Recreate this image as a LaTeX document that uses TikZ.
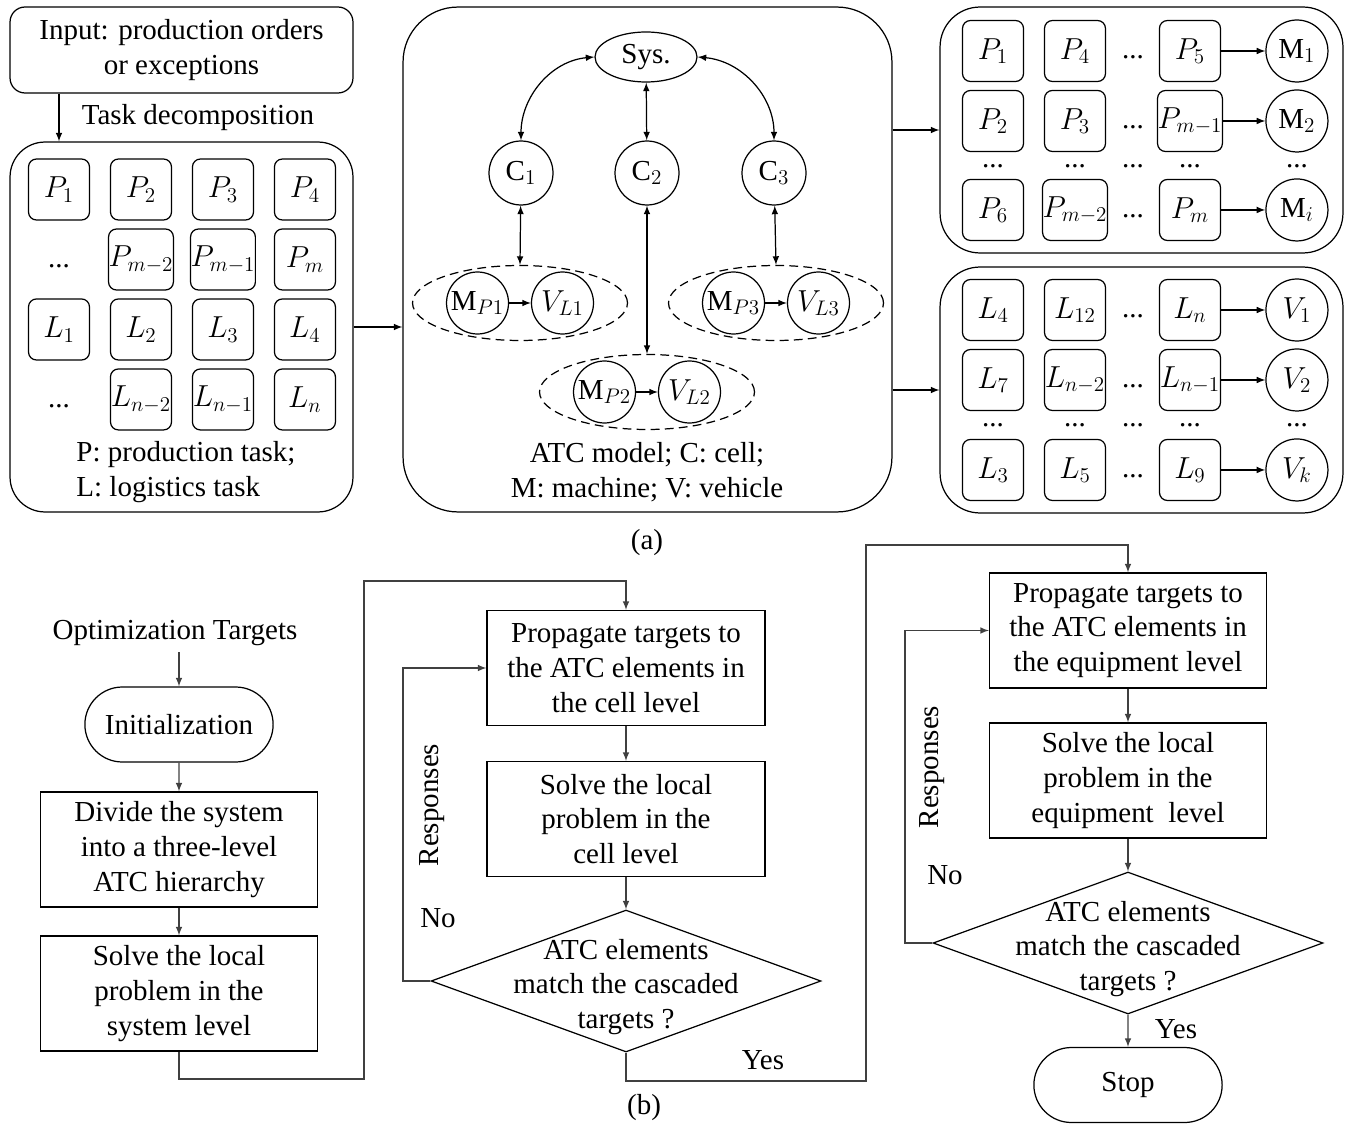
\documentclass[tikz,border=0pt]{standalone}
\usepackage{fontspec}
\setmainfont{Liberation Serif}
\usepackage{amsmath}
\usetikzlibrary{arrows,positioning,shapes.geometric,shapes.misc}

\tikzset{
  task/.style={draw,rounded corners=4.5pt,minimum size=1.22cm,inner sep=0pt},
  agent/.style={draw,circle,minimum size=1.24cm,inner sep=0pt},
  gap/.style={inner sep=0pt,text height=9pt,text depth=0pt},
  group/.style={draw,ellipse,dash pattern=on 5pt off 3pt,minimum width=4.3cm,minimum height=1.5cm},
  panel/.style={draw,rounded corners=#1},
  procbox/.style={draw,rectangle,minimum width=5.54cm,minimum height=2.3cm,align=center,inner sep=0pt},
  decision/.style={draw,diamond,minimum width=7.8cm,minimum height=2.84cm,inner sep=0pt},
  terminal/.style={draw,rounded rectangle,minimum width=4cm,minimum height=1.5cm},
  flow/.style={->,draw=black!75},
}

\begin{document}
\begin{tikzpicture}[x=0.02cm,y=-0.02cm,>=latex,line width=0.7pt,node distance=1.4cm and 1.64cm,on grid,
    font=\fontsize{16.5}{19.8}\selectfont]
    \useasboundingbox (0,0) rectangle (1348,1128);
    %% (a) task decomposition
    \node (inp) [draw,rounded corners=0.3cm,minimum width=6.86cm,minimum height=1.72cm,align=center] at (181.5,50)
      {Input: production orders\\or exceptions};
    \node (dec) [panel=0.7cm,minimum width=6.86cm,minimum height=7.4cm] at (181.5,327) {};
    \node (tdl) at (198,118) {Task decomposition};
    \node (p1) [task] at (59,189.5) {$P_1$};
    \node (p2) [task,right=of p1] {$P_2$};
    \node (p3) [task,right=of p2] {$P_3$};
    \node (p4) [task,right=of p3] {$P_4$};
    \node (pm2) [task,below=of p2] {$P_{m-2}$};
    \node (pm1) [task,below=of p3] {$P_{m-1}$};
    \node (pm) [task,below=of p4] {$P_m$};
    \node (l1) [task,below=2.8cm of p1] {$L_1$};
    \node (l2) [task,below=of pm2] {$L_2$};
    \node (l3) [task,below=of pm1] {$L_3$};
    \node (l4) [task,below=of pm] {$L_4$};
    \node (ln2) [task,below=of l2] {$L_{n-2}$};
    \node (ln1) [task,below=of l3] {$L_{n-1}$};
    \node (ln) [task,below=of l4] {$L_n$};
    \node (dp) [gap,below=of p1] {...};
    \node (dl) [gap,below=of l1] {...};
    \node (lgd) [anchor=west,align=left] at (70,472) {P: production task;\\L: logistics task};
    \draw[->] (inp.south -| p1) -- (dec.north -| p1);

    %% (a) ATC model
    \node (atc) [panel=1.1cm,minimum width=9.78cm,minimum height=10.1cm] at (647.5,259.5) {};
    \node (sys) [draw,ellipse,minimum width=2.04cm,minimum height=1cm,inner sep=0pt] at (646,57) {Sys.};
    \node (cl1) [agent,minimum size=1.28cm] at (521,173) {$\mathrm{C}_1$};
    \node (cl2) [agent,minimum size=1.28cm] at (647,173) {$\mathrm{C}_2$};
    \node (cl3) [agent,minimum size=1.28cm] at (774,173) {$\mathrm{C}_3$};
    \node (g1) [group] at (520,303) {};
    \node (mp1) [agent,left=0.85cm of g1] {$\mathrm{M}_{P1}$};
    \node (vl1) [agent,right=0.85cm of g1] {$V_{L1}$};
    \node (g3) [group] at (776,303) {};
    \node (mp3) [agent,left=0.85cm of g3] {$\mathrm{M}_{P3}$};
    \node (vl3) [agent,right=0.85cm of g3] {$V_{L3}$};
    \node (g2) [group] at (647,392) {};
    \node (mp2) [agent,left=0.85cm of g2] {$\mathrm{M}_{P2}$};
    \node (vl2) [agent,right=0.85cm of g2] {$V_{L2}$};
    \node (alg) [align=center] at (647,472) {ATC model; C: cell;\\M: machine; V: vehicle};
    \node (capa) at (647,543) {(a)};
    \draw[<->] (sys.west) to[out=185,in=90] (cl1.north);
    \draw[<->] (sys.east) to[out=-5,in=90] (cl3.north);
    \draw[<->] (sys) -- (cl2);
    \draw[<->] (cl1) -- (g1.north);
    \draw[<->] (cl2) -- (g2.north);
    \draw[<->] (cl3) -- (g3.north);
    \draw[->] (mp1) -- (vl1);
    \draw[->] (mp2) -- (vl2);
    \draw[->] (mp3) -- (vl3);
    \draw[->] (dec.east) -- (dec.east -| atc.west);

    %% (a) machines
    \node (mch) [panel=0.8cm,minimum width=8.06cm,minimum height=4.92cm] at (1141.5,130) {};
    \node (pa1) [task] at (993,51) {$P_1$};
    \node (pa2) [task,right=of pa1] {$P_4$};
    \node (pa4) [task,right=2.3cm of pa2] {$P_5$};
    \node (m1) [agent,right=2.14cm of pa4] {$\mathrm{M}_1$};
    \node (pb1) [task,below=of pa1] {$P_2$};
    \node (pb2) [task,below=of pa2] {$P_3$};
    \node (pb4) [task,below=of pa4] {$P_{m-1}$};
    \node (m2) [agent,below=of m1] {$\mathrm{M}_2$};
    \node (pc1) [task,below=1.78cm of pb1] {$P_6$};
    \node (pc2) [task,below=1.78cm of pb2] {$P_{m-2}$};
    \node (pc4) [task,below=1.78cm of pb4] {$P_m$};
    \node (mi) [agent,below=1.78cm of m2] {$\mathrm{M}_i$};
    \node (pa3) [gap,right=1.16cm of pa2] {...};
    \node (pb3) [gap,right=1.16cm of pb2] {...};
    \node (pc3) [gap,right=1.16cm of pc2] {...};
    \node (px1) [gap,below=0.78cm of pb1] {...};
    \node (px2) [gap,below=0.78cm of pb2] {...};
    \node (px3) [gap,right=1.16cm of px2] {...};
    \node (px4) [gap,below=0.78cm of pb4] {...};
    \node (px5) [gap,below=0.78cm of m2] {...};
    \draw[->] (pa4) -- (m1);
    \draw[->] (pb4) -- (m2);
    \draw[->] (pc4) -- (mi);

    %% (a) vehicles
    \node (veh) [panel=0.8cm,minimum width=8.06cm,minimum height=4.92cm] at (1141.5,390) {};
    \node (la1) [task] at (993,310) {$L_4$};
    \node (la2) [task,right=of la1] {$L_{12}$};
    \node (la4) [task,right=2.3cm of la2] {$L_n$};
    \node (v1) [agent,right=2.14cm of la4] {$V_1$};
    \node (lb1) [task,below=of la1] {$L_7$};
    \node (lb2) [task,below=of la2] {$L_{n-2}$};
    \node (lb4) [task,below=of la4] {$L_{n-1}$};
    \node (v2) [agent,below=of v1] {$V_2$};
    \node (lc1) [task,below=1.8cm of lb1] {$L_3$};
    \node (lc2) [task,below=1.8cm of lb2] {$L_5$};
    \node (lc4) [task,below=1.8cm of lb4] {$L_9$};
    \node (vk) [agent,below=1.8cm of v2] {$V_k$};
    \node (la3) [gap,right=1.16cm of la2] {...};
    \node (lb3) [gap,right=1.16cm of lb2] {...};
    \node (lc3) [gap,right=1.16cm of lc2] {...};
    \node (lx1) [gap,below=0.78cm of lb1] {...};
    \node (lx2) [gap,below=0.78cm of lb2] {...};
    \node (lx3) [gap,right=1.16cm of lx2] {...};
    \node (lx4) [gap,below=0.78cm of lb4] {...};
    \node (lx5) [gap,below=0.78cm of v2] {...};
    \draw[->] (la4) -- (v1);
    \draw[->] (lb4) -- (v2);
    \draw[->] (lc4) -- (vk);
    \draw[->] (atc.east |- mch.west) -- (mch.west);
    \draw[->] (atc.east |- veh.west) -- (veh.west);

    %% (b) flow chart
    \node (opt) at (175,633) {Optimization Targets};
    \node (ini) [terminal] at (179,724.5) {Initialization};
    \node (div) [procbox] at (179,849.5) {Divide the system\\into a three-level\\ATC hierarchy};
    \node (slv0) [procbox] at (179,993.5) {Solve the local\\problem in the\\system level};
    \node (prp1) [procbox,minimum width=5.56cm] at (626,668) {Propagate targets to\\the ATC elements in\\the cell level};
    \node (slv1) [procbox,minimum width=5.56cm] at (626,819) {Solve the local\\problem in the\\cell level};
    \node (chk1) [decision,label={[align=center,yshift=-0.12cm]center:{ATC elements\\match the cascaded\\targets ?}}] at (626,981) {};
    \node (prp2) [procbox] at (1128,630.5) {Propagate targets to\\the ATC elements in\\the equipment level};
    \node (slv2) [procbox] at (1128,780.5) {Solve the local\\problem in the\\equipment~~level};
    \node (chk2) [decision,label={[align=center,yshift=-0.12cm]center:{ATC elements\\match the cascaded\\targets ?}}] at (1128,943) {};
    \node (stp) [terminal] at (1128,1085) {Stop};
    \node (rsp1) [rotate=90] at (432,805) {Responses};
    \node (no1) at (438,918) {No};
    \node (yes1) at (763,1060) {Yes};
    \node (rsp2) [rotate=90] at (932,767) {Responses};
    \node (no2) at (945,875) {No};
    \node (yes2) at (1176,1029) {Yes};
    \node (capb) at (644,1108) {(b)};
    \coordinate (k1) at (364,1079);
    \coordinate (k2) at (626,581);
    \coordinate (k3) at (403,981);
    \coordinate (k4) at (866,1081);
    \coordinate (k5) at (1128,545);
    \coordinate (k6) at (905,943);
    \draw[flow] (opt.south -| ini.north) -- (ini.north);
    \draw[flow] (ini) -- (div);
    \draw[flow] (div) -- (slv0);
    \draw[flow] (slv0.south) |- (k1) |- (k2) -- (prp1.north);
    \draw[flow] (prp1) -- (slv1);
    \draw[flow] (slv1) -- (chk1);
    \draw[flow] (chk1.west) -- (k3) |- (prp1.west);
    \draw[flow] (chk1.south) |- (k4) |- (k5) -- (prp2.north);
    \draw[flow] (prp2) -- (slv2);
    \draw[flow] (slv2) -- (chk2);
    \draw[flow] (chk2.west) -- (k6) |- (prp2.west);
    \draw[flow] (chk2) -- (stp);
\end{tikzpicture}
\end{document}
